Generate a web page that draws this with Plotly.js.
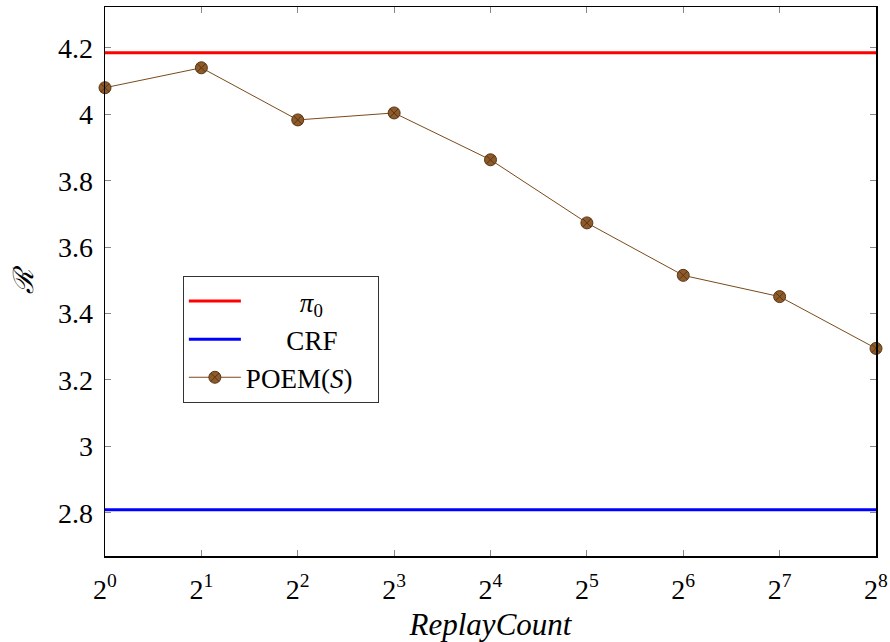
<!DOCTYPE html>
<html>
<head>
<meta charset="utf-8">
<script src="https://cdn.plot.ly/plotly-3.0.1.min.js"></script>
<style>
  html, body { margin: 0; padding: 0; background: #fff; }
  #chart { width: 890px; height: 642px; }
</style>
</head>
<body>
<div id="chart"></div>
<script>
// Replay count exponents (2^k) and the risk of each method
const exponents = [0, 1, 2, 3, 4, 5, 6, 7, 8];
const tickLabels = ['2<sup>0</sup>', '2<sup>1</sup>', '2<sup>2</sup>', '2<sup>3</sup>', '2<sup>4</sup>',
                    '2<sup>5</sup>', '2<sup>6</sup>', '2<sup>7</sup>', '2<sup>8</sup>'];
const yTicks = [2.8, 3, 3.2, 3.4, 3.6, 3.8, 4, 4.2];
const yTickLabels = ['2.8', '3', '3.2', '3.4', '3.6', '3.8', '4', '4.2'];
const poemRisk = [4.08, 4.14, 3.983, 4.004, 3.863, 3.673, 3.515, 3.451, 3.295];
const pi0Risk = 4.185;
const crfRisk = 2.809;

const serif = 'Liberation Serif';
// non-breaking spaces keep the shorter legend entries centred in the box
const pad = n => '\u00a0'.repeat(n);

const traces = [
  {
    x: [exponents[0], exponents[exponents.length - 1]],
    y: [pi0Risk, pi0Risk],
    mode: 'lines',
    name: pad(8) + '<i>π</i><sub>0</sub>',
    line: { color: '#ff0000', width: 3 }
  },
  {
    x: [exponents[0], exponents[exponents.length - 1]],
    y: [crfRisk, crfRisk],
    mode: 'lines',
    name: pad(6) + 'CRF',
    line: { color: '#0000ff', width: 3 }
  },
  {
    x: exponents,
    y: poemRisk,
    mode: 'lines+markers',
    name: 'POEM(<i>S</i>)' + pad(3),
    line: { color: '#7a4a1c', width: 1 },
    marker: { symbol: 'circle-x', size: 12, color: '#8c5a2b',
              line: { color: '#5a3512', width: 1 } },
    cliponaxis: false
  }
];

const layout = {
  width: 890,
  height: 642,
  margin: { l: 105, r: 14, t: 7, b: 86 },
  paper_bgcolor: '#fff',
  plot_bgcolor: '#fff',
  font: { family: serif, size: 28, color: '#000' },
  showlegend: true,
  legend: {
    x: 0.101, y: 0.51, xanchor: 'left', yanchor: 'top',
    bgcolor: '#fff', bordercolor: '#333', borderwidth: 1,
    font: { family: serif, size: 27, color: '#000' },
    itemwidth: 52
  },
  xaxis: {
    range: [0, 8],
    tickvals: exponents,
    ticktext: tickLabels,
    ticks: 'inside', ticklen: 6, tickcolor: '#888', tickwidth: 1,
    ticklabelstandoff: 8,
    showgrid: false, zeroline: false,
    showline: true, linecolor: '#000', linewidth: 1.5, mirror: 'ticks',
    tickfont: { family: serif, size: 28, color: '#000' },
    title: { text: '<i>ReplayCount</i>', font: { family: serif, size: 31, color: '#000' }, standoff: 12 }
  },
  yaxis: {
    range: [2.67, 4.323],
    tickvals: yTicks,
    ticktext: yTickLabels,
    ticks: 'inside', ticklen: 6, tickcolor: '#888', tickwidth: 1,
    ticklabelstandoff: 5,
    showgrid: false, zeroline: false,
    showline: true, linecolor: '#000', linewidth: 1.5, mirror: 'ticks',
    tickfont: { family: serif, size: 28, color: '#000' },
    title: { text: '<i>ℛ</i>', font: { family: serif, size: 28, color: '#000' }, standoff: 16 }
  }
};

Plotly.newPlot('chart', traces, layout, { displayModeBar: false, staticPlot: true });
</script>
</body>
</html>
